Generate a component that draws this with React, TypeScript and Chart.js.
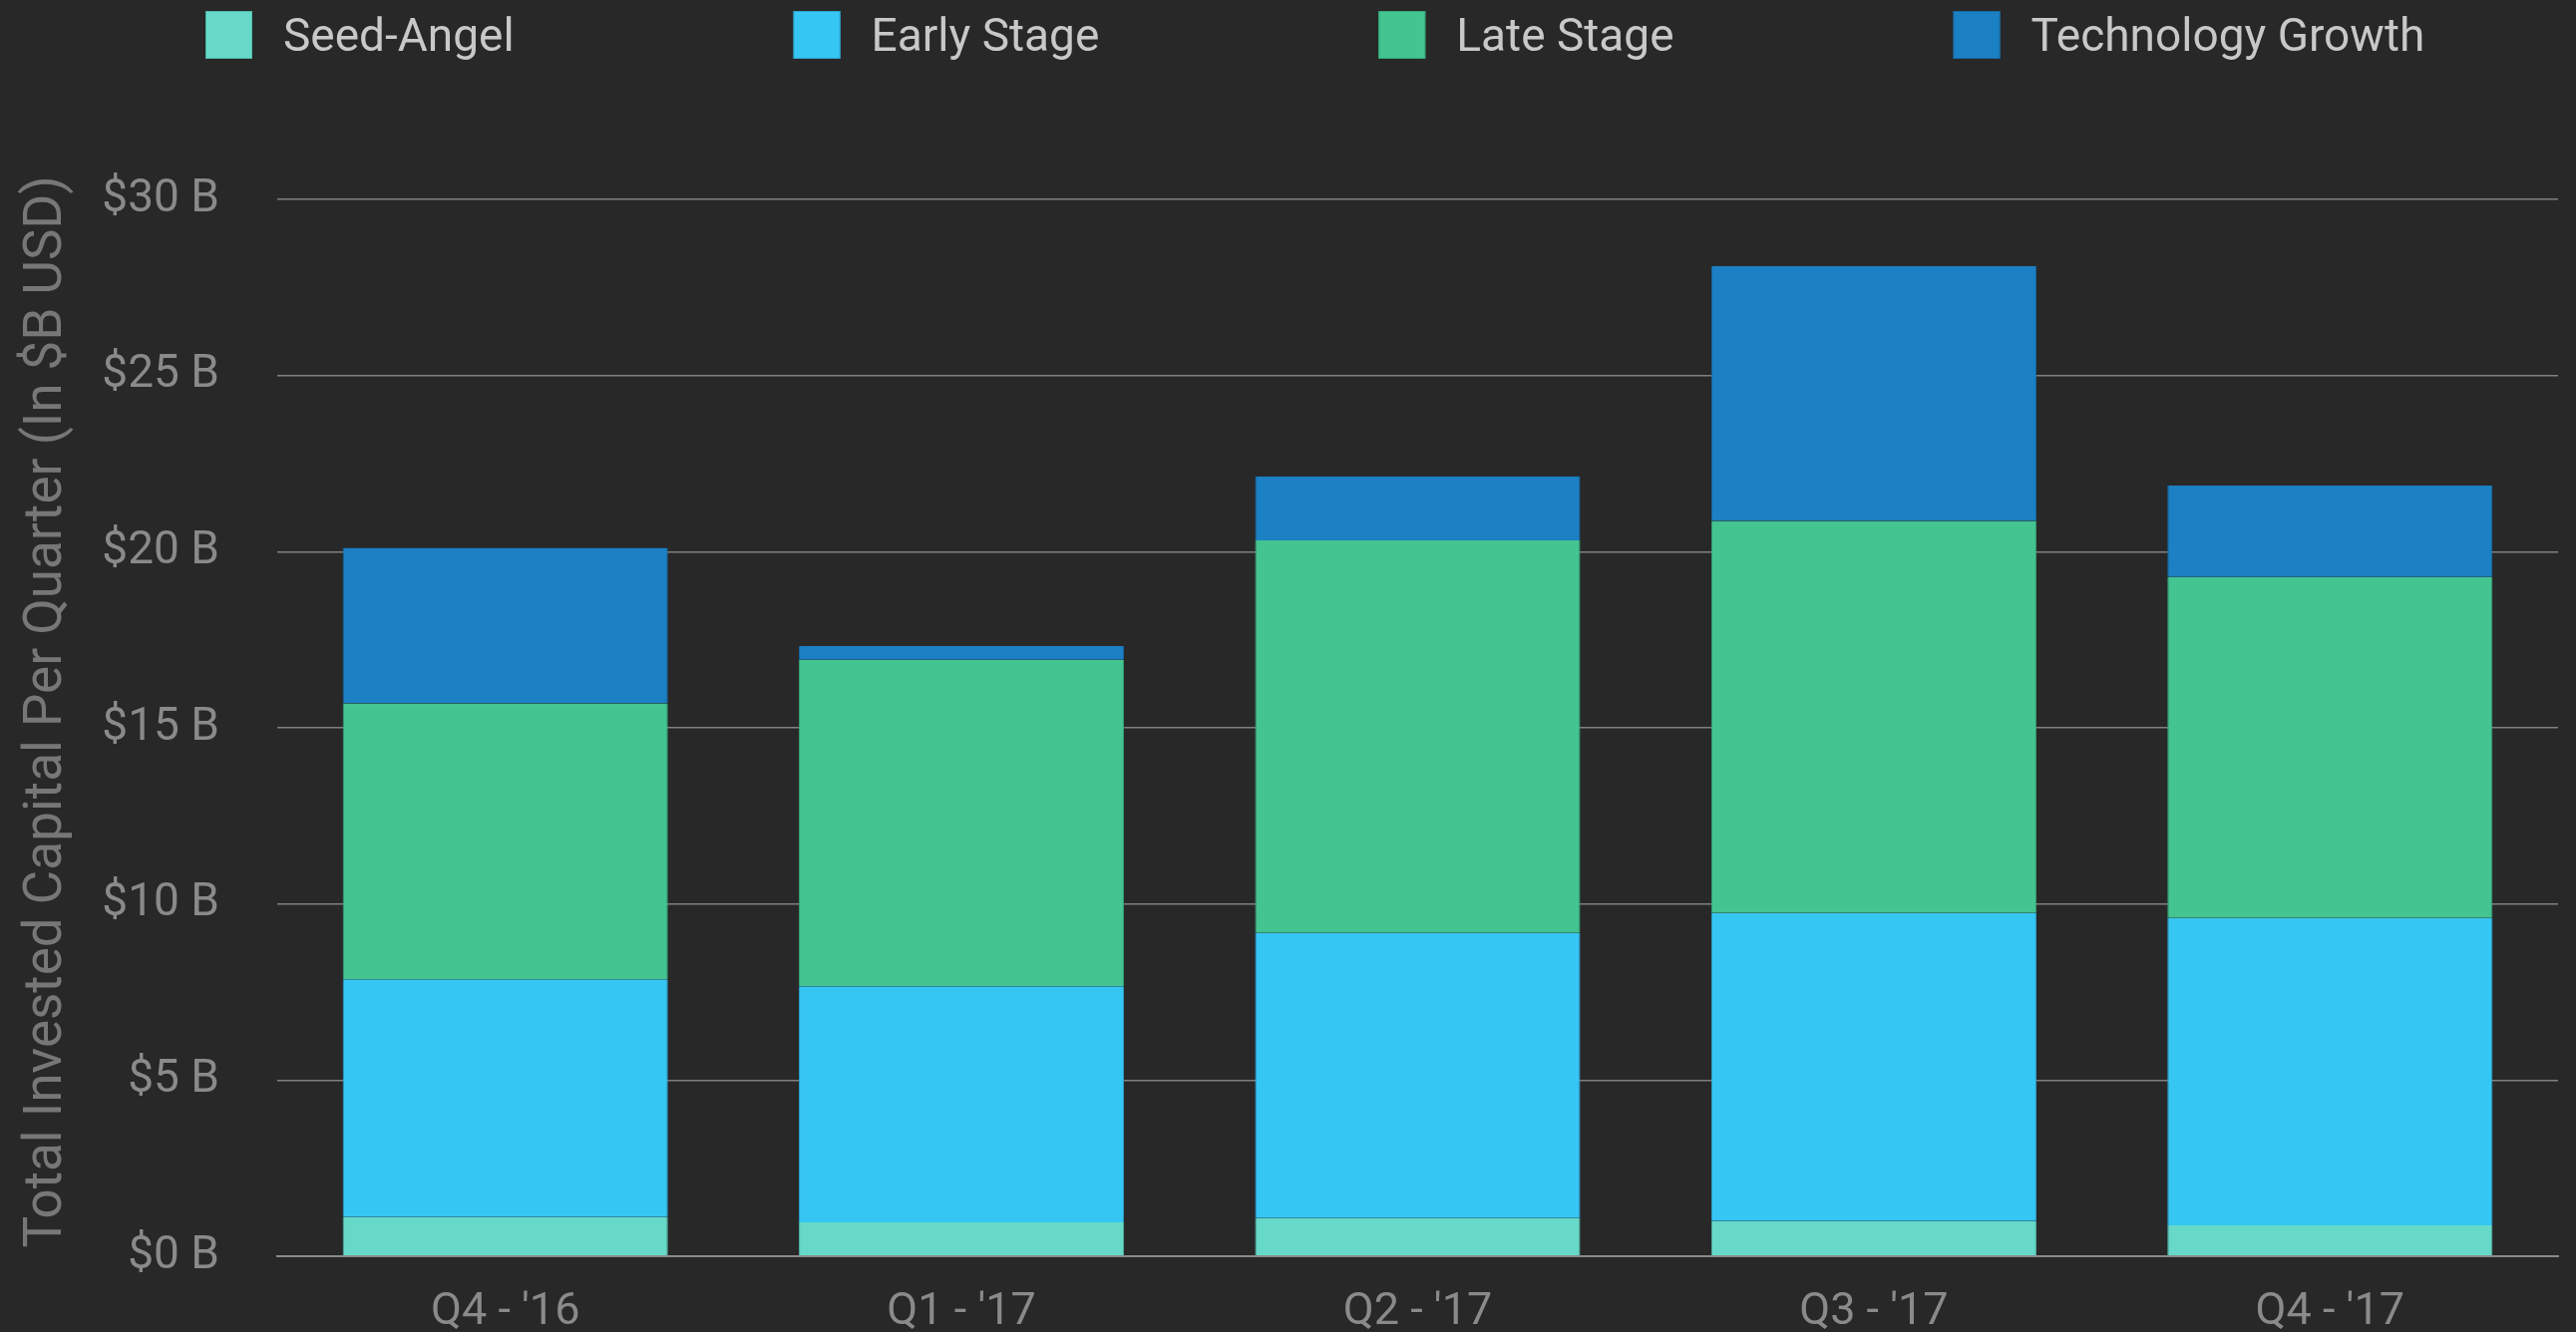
import React, { useEffect, useRef } from "react";
import { Chart, registerables } from "chart.js";

Chart.register(...registerables);

const categories = ["Q4 - '16", "Q1 - '17", "Q2 - '17", "Q3 - '17", "Q4 - '17"];
const seriesNames = ["Seed-Angel", "Early Stage", "Late Stage", "Technology Growth"];
const seedAngel = [1.11, 0.96, 1.08, 1.0, 0.88];
const earlyStage = [6.75, 6.7, 8.1, 8.74, 8.72];
const lateStage = [7.83, 9.27, 11.14, 11.13, 9.68];
const techGrowth = [4.42, 0.39, 1.82, 7.24, 2.6];
const fillColors = ["#66d9c8", "#36c6f4", "#44c491", "#1b80c4"];
const edgeColors = ["#4fb8a8", "#2aa6d2", "#33a877", "#166aa4"];
const yTicks = [0, 5, 10, 15, 20, 25, 30];
const yTitle = "Total Invested Capital Per Quarter (In $B USD)";

const W = 2583;
const H = 1336;
const BG = "#282828";
const FONT = "Roboto";

const legendPlugin = {
  id: "customLegend",
  afterDraw(chart: any) {
    const ctx = chart.ctx;
    ctx.save();
    ctx.font = `46px ${FONT}`;
    ctx.textBaseline = "middle";
    ctx.textAlign = "left";
    const boxW = 47;
    const boxH = 48;
    const gap = 31;
    const itemPad = 280;
    let x = 206;
    const top = 11;
    chart.data.datasets.forEach((ds: any) => {
      ctx.fillStyle = ds.backgroundColor;
      ctx.fillRect(x, top, boxW, boxH);
      ctx.strokeStyle = ds.borderColor;
      ctx.lineWidth = 1;
      ctx.strokeRect(x + 0.5, top + 0.5, boxW - 1, boxH - 1);
      ctx.fillStyle = "#c8c8c8";
      ctx.fillText(ds.label, x + boxW + gap, top + boxH / 2 + 4);
      x += boxW + gap + ctx.measureText(ds.label).width + itemPad;
    });
    ctx.restore();
  },
};

const yTitlePlugin = {
  id: "yTitle",
  afterDraw(chart: any) {
    const ctx = chart.ctx;
    ctx.save();
    ctx.font = `53px ${FONT}`;
    ctx.fillStyle = "#777777";
    ctx.textAlign = "center";
    ctx.textBaseline = "alphabetic";
    ctx.translate(61, 714);
    ctx.rotate(-Math.PI / 2);
    ctx.fillText(yTitle, 0, 0);
    ctx.restore();
  },
};

const bgPlugin = {
  id: "bg",
  beforeDraw(chart: any) {
    const ctx = chart.ctx;
    ctx.save();
    ctx.fillStyle = BG;
    ctx.fillRect(0, 0, chart.width, chart.height);
    ctx.restore();
  },
};

export default function App() {
  const ref = useRef<HTMLCanvasElement | null>(null);
  useEffect(() => {
    if (!ref.current) return;
    const seriesData = [seedAngel, earlyStage, lateStage, techGrowth];
    const chart = new Chart(ref.current, {
      type: "bar",
      data: {
        labels: categories,
        datasets: seriesNames.map((name, i) => ({
          label: name,
          data: seriesData[i],
          backgroundColor: fillColors[i],
          borderColor: edgeColors[i],
          borderWidth: { left: 1, right: 1, top: 0, bottom: 0 },
          borderSkipped: false,
          categoryPercentage: 1,
          barPercentage: 0.713,
        })),
      },
      options: {
        animation: false,
        responsive: false,
        maintainAspectRatio: false,
        layout: { padding: { top: 200, right: 18, bottom: 0, left: 0 } },
        plugins: {
          legend: { display: false },
          tooltip: { enabled: false },
        },
        scales: {
          x: {
            stacked: true,
            grid: { display: false, drawTicks: false },
            border: { display: true, color: "#8a8a8a", width: 2 },
            ticks: {
              color: "#8a8a8a",
              font: { family: FONT, size: 45 },
              padding: 30,
              maxRotation: 0,
            },
            afterFit: (scale: any) => {
              scale.height = 76;
            },
          },
          y: {
            stacked: true,
            min: 0,
            max: 30,
            afterBuildTicks: (scale: any) => {
              scale.ticks = yTicks.map((v) => ({ value: v }));
            },
            grid: {
              color: "#808080",
              lineWidth: 1.5,
              drawTicks: true,
              tickLength: 55,
              tickColor: "rgba(0,0,0,0)",
            },
            border: { display: false },
            ticks: {
              color: "#8a8a8a",
              font: { family: FONT, size: 46 },
              padding: 3,
              callback: (v: any) => `$${v} B`,
            },
            title: { display: false },
            afterFit: (scale: any) => {
              scale.width = 278;
            },
          },
        },
      },
      plugins: [bgPlugin, legendPlugin, yTitlePlugin],
    });
    return () => chart.destroy();
  }, []);
  return (
    <div style={{ position: "fixed", left: 0, top: 0, width: W, height: H, background: BG }}>
      <canvas ref={ref} width={W} height={H} style={{ display: "block", width: W, height: H }} />
    </div>
  );
}
